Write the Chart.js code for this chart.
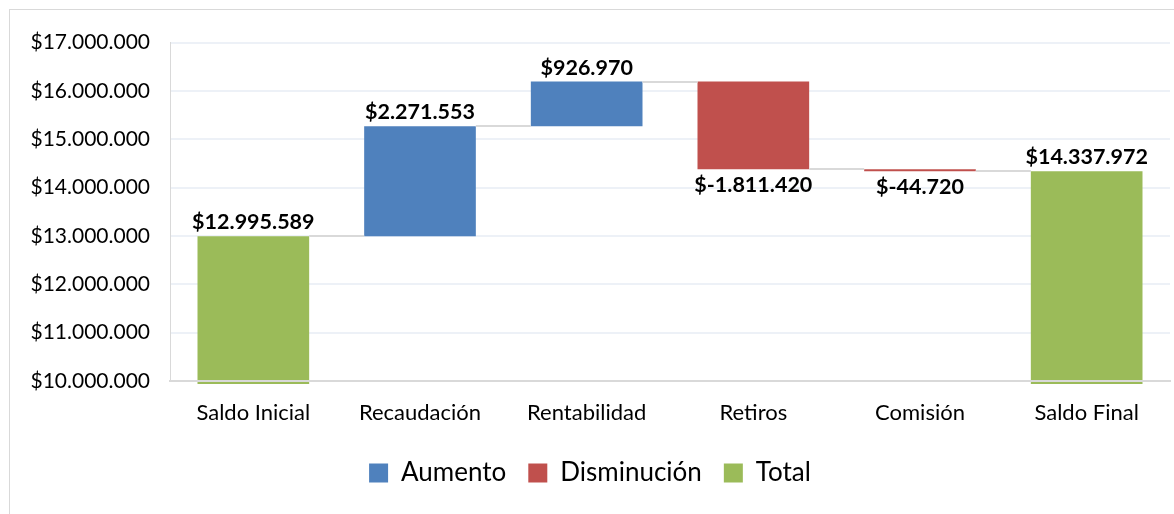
<!DOCTYPE html>
<html>
<head>
<meta charset="utf-8">
<script src="https://cdn.jsdelivr.net/npm/chart.js@4/dist/chart.umd.min.js"></script>
<style>
  html, body { margin: 0; padding: 0; background: #fff; overflow: hidden; }
  #frame {
    position: absolute; left: 9px; top: 9px;
    width: 1200px; height: 520px;
    border: 1px solid #d9d9d9;
  }
  #chart { display: block; }
</style>
</head>
<body>
<div id="frame">
  <canvas id="chart" width="1164" height="504"></canvas>
</div>
<script>
// Waterfall data
const categories = ['Saldo Inicial', 'Recaudación', 'Rentabilidad', 'Retiros', 'Comisión', 'Saldo Final'];
const changes = [12995589, 2271553, 926970, -1811420, -44720, 14337972];
const kinds = ['total', 'up', 'up', 'down', 'down', 'total'];
const seriesNames = ['Aumento', 'Disminución', 'Total'];
const yMin = 10000000;
const yMax = 17000000;
const yStep = 1000000;

const COLORS = { up: '#4f81bd', down: '#c0504d', total: '#9bbb59' };
const FONT = 'Lato, "Open Sans", sans-serif';

function money(v) {
    const s = Math.abs(Math.round(v)).toString().replace(/\B(?=(\d{3})+(?!\d))/g, '.');
    return '$' + (v < 0 ? '-' : '') + s;
}

// running levels: start/end of each bar
const starts = [];
const ends = [];
let level = 0;
changes.forEach((v, i) => {
    if (kinds[i] === 'total') {
        starts.push(0);
        ends.push(v);
        level = v;
    } else {
        starts.push(level);
        level += v;
        ends.push(level);
    }
});

const seriesFor = (kind) => changes.map((v, i) => kinds[i] === kind ? [starts[i], ends[i]] : null);

// connectors between bars
const connectorPlugin = {
    id: 'connectors',
    afterDatasetsDraw(chart) {
        const ctx = chart.ctx;
        const y = chart.scales.y;
        const el = (i) => {
            const d = ['up', 'down', 'total'].indexOf(kinds[i]);
            return chart.getDatasetMeta(d).data[i];
        };
        ctx.save();
        ctx.strokeStyle = '#d9d9d9';
        ctx.lineWidth = 2;
        for (let i = 0; i < categories.length - 1; i++) {
            const a = el(i), b = el(i + 1);
            const py = Math.round(y.getPixelForValue(ends[i]));
            ctx.beginPath();
            ctx.moveTo(a.x + a.width / 2, py);
            ctx.lineTo(b.x - b.width / 2, py);
            ctx.stroke();
        }
        ctx.restore();
    }
};

// value labels
const labelPlugin = {
    id: 'valueLabels',
    afterDatasetsDraw(chart) {
        const ctx = chart.ctx;
        const y = chart.scales.y;
        ctx.save();
        ctx.font = 'bold 21.5px ' + FONT;
        ctx.fillStyle = '#000';
        ctx.textAlign = 'center';
        ctx.textBaseline = 'alphabetic';
        categories.forEach((c, i) => {
            const d = ['up', 'down', 'total'].indexOf(kinds[i]);
            const bar = chart.getDatasetMeta(d).data[i];
            const top = y.getPixelForValue(Math.max(starts[i], ends[i]));
            const bottom = y.getPixelForValue(Math.min(starts[i], ends[i]));
            if (kinds[i] === 'down') {
                ctx.fillText(money(changes[i]), bar.x, bottom + 23);
            } else {
                ctx.fillText(money(changes[i]), bar.x, top - 7);
            }
        });
        ctx.restore();
    }
};

new Chart(document.getElementById('chart'), {
    type: 'bar',
    data: {
        labels: categories,
        datasets: [
            { label: seriesNames[0], data: seriesFor('up'), backgroundColor: COLORS.up },
            { label: seriesNames[1], data: seriesFor('down'), backgroundColor: COLORS.down },
            { label: seriesNames[2], data: seriesFor('total'), backgroundColor: COLORS.total,
              clip: { left: false, top: false, right: false, bottom: 3 } }
        ]
    },
    options: {
        responsive: false,
        animation: false,
        grouped: false,
        barPercentage: 0.67,
        categoryPercentage: 1,
        layout: { padding: { top: 28, left: 0, right: 4, bottom: 18 } },
        scales: {
            x: {
                afterFit: (s) => { s.height = 57; },
                grid: { display: true, color: 'rgba(0,0,0,0)', drawTicks: false },
                border: { display: true, color: '#d9d9d9', width: 2, z: 1 },
                ticks: { color: '#000', padding: 19, font: { family: FONT, size: 22 } }
            },
            y: {
                min: yMin,
                max: yMax,
                afterFit: (s) => { s.width = 160; },
                grid: { color: '#edf1f7', lineWidth: 2, drawTicks: false },
                border: { display: true, color: '#d9d9d9', width: 1 },
                ticks: {
                    stepSize: yStep,
                    color: '#000',
                    padding: 20,
                    font: { family: FONT, size: 21 },
                    callback: (v) => money(v)
                }
            }
        },
        plugins: {
            legend: {
                position: 'bottom',
                labels: {
                    boxWidth: 19,
                    boxHeight: 19,
                    padding: 22,
                    color: '#000',
                    font: { family: FONT, size: 26 }
                }
            },
            tooltip: { enabled: false }
        }
    },
    plugins: [connectorPlugin, labelPlugin]
});
</script>
</body>
</html>
